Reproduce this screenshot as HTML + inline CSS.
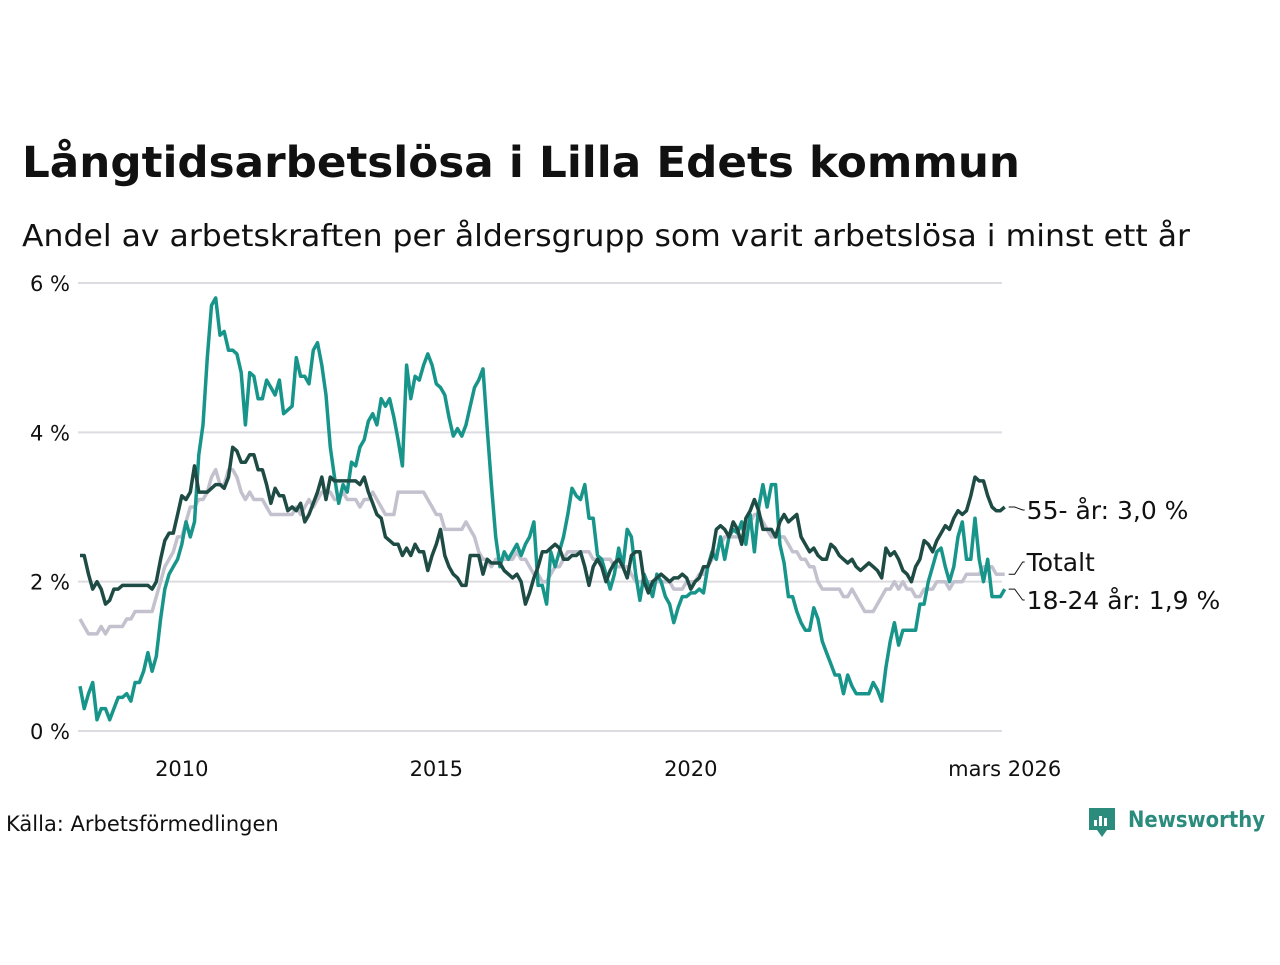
<!DOCTYPE html>
<html><head><meta charset="utf-8"><style>
body{margin:0;background:#fff;width:1280px;height:960px;overflow:hidden;font-family:"Liberation Sans","DejaVu Sans",sans-serif;}
svg text{font-family:"DejaVu Sans","Liberation Sans",sans-serif;}
</style></head><body>
<svg id="chart" width="1280" height="960" xmlns="http://www.w3.org/2000/svg">
<text x="22" y="177" font-size="43" font-weight="bold" fill="#111" textLength="998" lengthAdjust="spacingAndGlyphs">Långtidsarbetslösa i Lilla Edets kommun</text>
<text x="22" y="246" font-size="30" fill="#111" textLength="1168" lengthAdjust="spacingAndGlyphs">Andel av arbetskraften per åldersgrupp som varit arbetslösa i minst ett år</text>
<g id="grid"></g><g id="series"></g><g id="labels"></g>
<text x="6" y="831" font-size="21" fill="#111">Källa: Arbetsförmedlingen</text>
<g>
<path d="M1089 808h26v22h-8l-5 7-5-7h-8z" fill="#2b8c7e"/>
<rect x="1094" y="820" width="3" height="6" fill="#fff"/><rect x="1099" y="816" width="3" height="10" fill="#fff"/><rect x="1104" y="818" width="3" height="8" fill="#fff"/>
<text x="1128" y="827" font-size="22" font-weight="bold" fill="#2b8c7e" textLength="137" lengthAdjust="spacingAndGlyphs">Newsworthy</text>
</g>
</svg>
<script>
const startYear=2008;
const youth=[0.6,0.3,0.5,0.65,0.15,0.3,0.3,0.15,0.3,0.45,0.45,0.5,
0.4,0.65,0.65,0.8,1.05,0.8,1.0,1.5,1.9,2.1,2.2,2.3,
2.5,2.8,2.6,2.8,3.7,4.1,5.0,5.7,5.8,5.3,5.35,5.1,
5.1,5.05,4.8,4.1,4.8,4.75,4.45,4.45,4.7,4.6,4.5,4.7,
4.25,4.3,4.35,5.0,4.75,4.75,4.65,5.1,5.2,4.9,4.5,3.8,
3.4,3.05,3.3,3.2,3.6,3.55,3.8,3.9,4.15,4.25,4.1,4.45,
4.35,4.45,4.2,3.9,3.55,4.9,4.45,4.75,4.7,4.9,5.05,4.9,
4.65,4.6,4.5,4.2,3.95,4.05,3.95,4.1,4.35,4.6,4.7,4.85,
4.05,3.3,2.6,2.2,2.4,2.3,2.4,2.5,2.35,2.5,2.6,2.8,
1.95,1.95,1.7,2.4,2.2,2.4,2.6,2.9,3.25,3.15,3.1,3.3,
2.85,2.85,2.35,2.3,2.1,1.9,2.1,2.45,2.2,2.7,2.6,2.1,
1.75,2.1,1.95,1.8,2.1,2.0,1.8,1.7,1.45,1.65,1.8,1.8,
1.85,1.85,1.9,1.85,2.2,2.4,2.3,2.6,2.3,2.6,2.7,2.65,
2.8,2.5,2.9,2.4,3.0,3.3,3.0,3.3,3.3,2.5,2.25,1.8,
1.8,1.6,1.45,1.35,1.35,1.65,1.5,1.2,1.05,0.9,0.75,0.75,
0.5,0.75,0.6,0.5,0.5,0.5,0.5,0.65,0.55,0.4,0.85,1.2,
1.45,1.15,1.35,1.35,1.35,1.35,1.7,1.7,2.0,2.2,2.4,2.45,
2.2,2.0,2.2,2.6,2.8,2.3,2.3,2.85,2.3,2.0,2.3,1.8,
1.8,1.8,1.9];
const total=[1.5,1.4,1.3,1.3,1.3,1.4,1.3,1.4,1.4,1.4,1.4,1.5,
1.5,1.6,1.6,1.6,1.6,1.6,1.8,2.0,2.2,2.3,2.4,2.6,
2.6,2.8,3.0,3.0,3.1,3.1,3.2,3.4,3.5,3.3,3.3,3.5,
3.5,3.4,3.2,3.1,3.2,3.1,3.1,3.1,3.0,2.9,2.9,2.9,
2.9,2.9,2.9,3.0,2.9,3.0,3.1,3.0,3.1,3.2,3.2,3.2,
3.1,3.1,3.2,3.1,3.1,3.1,3.0,3.1,3.1,3.2,3.1,3.0,
2.9,2.9,2.9,3.2,3.2,3.2,3.2,3.2,3.2,3.2,3.1,3.0,
2.9,2.9,2.7,2.7,2.7,2.7,2.7,2.8,2.7,2.6,2.4,2.3,
2.3,2.2,2.3,2.3,2.3,2.3,2.3,2.4,2.3,2.3,2.2,2.1,
2.1,2.0,2.0,2.1,2.2,2.2,2.3,2.4,2.4,2.4,2.4,2.4,
2.4,2.3,2.3,2.3,2.3,2.3,2.2,2.2,2.2,2.2,2.1,2.0,
2.0,2.0,2.0,2.0,2.0,2.0,2.0,2.0,1.9,1.9,1.9,2.0,
2.0,2.0,2.1,2.1,2.2,2.3,2.4,2.5,2.6,2.6,2.6,2.6,
2.6,2.7,2.8,2.9,2.9,2.8,2.7,2.6,2.6,2.6,2.6,2.5,
2.4,2.4,2.3,2.3,2.2,2.2,2.0,1.9,1.9,1.9,1.9,1.9,
1.8,1.8,1.9,1.8,1.7,1.6,1.6,1.6,1.7,1.8,1.9,1.9,
2.0,1.9,2.0,1.9,1.9,1.8,1.8,1.9,1.9,1.9,2.0,2.0,
2.0,1.9,2.0,2.0,2.0,2.1,2.1,2.1,2.1,2.2,2.2,2.2,
2.1,2.1,2.1];
const senior=[2.35,2.35,2.1,1.9,2.0,1.9,1.7,1.75,1.9,1.9,1.95,1.95,
1.95,1.95,1.95,1.95,1.95,1.9,2.0,2.3,2.55,2.65,2.65,2.9,
3.15,3.1,3.2,3.55,3.2,3.2,3.2,3.25,3.3,3.3,3.25,3.4,
3.8,3.75,3.6,3.6,3.7,3.7,3.5,3.5,3.3,3.05,3.25,3.15,
3.15,2.95,3.0,2.95,3.05,2.8,2.9,3.05,3.2,3.4,3.1,3.4,
3.35,3.35,3.35,3.35,3.35,3.35,3.3,3.4,3.2,3.05,2.9,2.85,
2.6,2.55,2.5,2.5,2.35,2.45,2.35,2.5,2.4,2.4,2.15,2.35,
2.5,2.7,2.35,2.2,2.1,2.05,1.95,1.95,2.35,2.35,2.35,2.1,
2.3,2.25,2.25,2.25,2.15,2.1,2.05,2.1,2.0,1.7,1.85,2.05,
2.2,2.4,2.4,2.45,2.5,2.45,2.3,2.3,2.35,2.35,2.4,2.2,
1.95,2.2,2.3,2.2,2.0,2.15,2.25,2.3,2.2,2.05,2.35,2.4,
2.4,2.0,1.85,2.0,2.05,2.1,2.05,2.0,2.05,2.05,2.1,2.05,
1.9,2.0,2.05,2.2,2.2,2.35,2.7,2.75,2.7,2.6,2.8,2.7,
2.5,2.85,2.95,3.1,2.95,2.7,2.7,2.7,2.6,2.8,2.9,2.8,
2.85,2.9,2.6,2.5,2.4,2.45,2.35,2.3,2.3,2.5,2.45,2.35,
2.3,2.25,2.3,2.2,2.15,2.2,2.25,2.2,2.15,2.05,2.45,2.35,
2.4,2.3,2.15,2.1,2.0,2.2,2.3,2.55,2.5,2.4,2.55,2.65,
2.75,2.7,2.85,2.95,2.9,2.95,3.15,3.4,3.35,3.35,3.15,3.0,
2.95,2.95,3.0];
const yTicks=[0,2,4,6];
const xTickYears=[2010,2015,2020];
const NS="http://www.w3.org/2000/svg";
const y=v=>731-v*74.67;
const x=i=>80+(i/12)*50.9;
const xy=yr=>80+(yr-startYear)*50.9;
function mk(tag,attrs,parent){const e=document.createElementNS(NS,tag);for(const k in attrs)e.setAttribute(k,attrs[k]);parent.appendChild(e);return e;}
const grid=document.getElementById('grid');
yTicks.forEach(t=>{
 const l=mk('line',{x1:78,x2:1002,y1:y(t),y2:y(t),stroke:'#dcdce0','stroke-width':2},grid);
 
 
 const tx=mk('text',{x:70,y:y(t)+8,'font-size':21,'text-anchor':'end',fill:'#111'},grid);
 tx.textContent=t+' %';
 
 
});
xTickYears.forEach(yr=>{
 const tx=mk('text',{x:xy(yr),y:776,'font-size':21,'text-anchor':'middle',fill:'#111'},grid);
 tx.textContent=yr;
 
 
});
const lastTx=mk('text',{x:x(youth.length-1),y:776,'font-size':21,'text-anchor':'middle',fill:'#111'},grid);
lastTx.textContent='mars 2026';


const sg=document.getElementById('series');
[[total,'#c4c1cf','line-totalt'],[youth,'#18958a','line-18-24'],[senior,'#1e4b44','line-55']].forEach(([d,c,n])=>{
 const p=mk('polyline',{points:d.map((v,i)=>x(i).toFixed(1)+','+y(v).toFixed(1)).join(' '),fill:'none',stroke:c,'stroke-width':3.5,'stroke-linejoin':'round'},sg);
 
 
});
const lg=document.getElementById('labels');
const ex=x(youth.length-1);
[[senior[senior.length-1],510,'55- år: 3,0 %','label-55'],[total[total.length-1],562,'Totalt','label-totalt'],[youth[youth.length-1],600,'18-24 år: 1,9 %','label-18-24']].forEach(([v,ly,t,n])=>{
 mk('polyline',{points:`${ex+4},${y(v)} ${ex+10},${y(v)} ${ex+18},${ly} ${ex+20},${ly}`,fill:'none',stroke:'#111','stroke-width':1},lg);
 const tx=mk('text',{x:ex+22,y:ly+9,'font-size':25,fill:'#111'},lg);
 tx.textContent=t;
 
 
});
</script>
</body></html>
